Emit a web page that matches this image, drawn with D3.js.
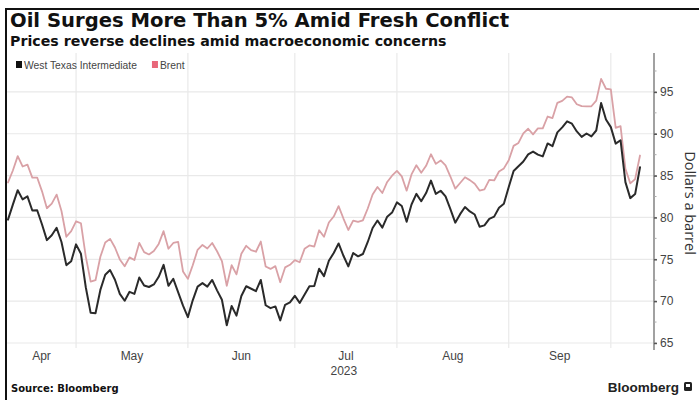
<!DOCTYPE html>
<html>
<head>
<meta charset="utf-8">
<script src="https://cdn.jsdelivr.net/npm/d3@7"></script>
<style>
  html, body { margin: 0; padding: 0; background: #fff; }
  svg { display: block; }
</style>
</head>
<body>
<svg id="chart" width="699" height="400"></svg>
<script>
// Trading-day calendar: weekdays from 10 Apr to 9 Oct 2023
const startDay = new Date(2023, 3, 10);
const endDay = new Date(2023, 9, 10);
const weekdays = d3.timeDay.range(startDay, endDay).filter(d => d.getDay() !== 0 && d.getDay() !== 6);

// WTI front-month, $/bbl, one value per weekday (null = market holiday)
const wti = [
  79.74, 81.53, 83.26, 82.16, 82.52,
  80.83, 80.86, 79.16, 77.29, 77.87,
  78.76, 77.07, 74.30, 74.76, 76.78,
  75.66, 71.66, 68.60, 68.56, 71.34,
  73.16, 73.71, 72.56, 70.87, 70.04,
  71.11, 70.86, 72.83, 71.86, 71.69,
  71.99, 72.91, 74.34, 71.83, 72.67,
  null, 69.46, 68.09, 70.10, 71.74,
  72.15, 71.74, 72.53, 71.29, 70.17,
  67.12, 69.42, 68.27, 70.62, 71.78,
  null, 71.19, 72.53, 69.51, 69.16,
  69.37, 67.70, 69.56, 69.86, 70.64,
  69.79, null, 71.79, 71.80, 73.86,
  72.99, 74.83, 75.75, 76.89, 75.42,
  74.15, 75.75, 75.35, 75.63, 77.07,
  78.74, 79.63, 78.78, 80.09, 80.58,
  81.80, 81.37, 79.49, 81.55, 82.82,
  81.94, 82.92, 84.40, 82.82, 83.19,
  82.51, 80.99, 79.38, 80.39, 81.25,
  80.72, 80.35, 78.89, 79.05, 79.83,
  80.10, 81.16, 81.63, 83.63, 85.55,
  null, 86.69, 87.54, 87.87, 87.51,
  87.29, 88.84, 88.52, 90.16, 90.77,
  91.48, 91.20, 90.28, 89.63, 90.03,
  89.68, 90.39, 93.68, 91.71, 90.79,
  88.82, 89.23, 84.22, 82.31, 82.79,
  86.0
];

// Brent front-month, $/bbl
const brent = [
  84.18, 85.61, 87.33, 86.09, 86.31,
  84.76, 84.77, 83.12, 81.10, 81.66,
  82.73, 80.77, 77.69, 78.37, 79.54,
  79.31, 75.32, 72.33, 72.50, 75.30,
  77.01, 77.44, 76.41, 74.98, 74.17,
  75.23, 74.91, 76.96, 75.86, 75.58,
  75.99, 76.84, 78.36, 76.26, 76.95,
  77.07, 73.54, 72.66, 74.28, 76.13,
  76.71, 76.29, 76.95, 75.96, 74.79,
  71.84, 74.29, 73.20, 75.67, 76.61,
  76.09, 75.90, 77.12, 74.14, 73.85,
  74.18, 72.26, 74.03, 74.34, 74.90,
  74.65, 76.25, 76.65, 76.52, 78.47,
  77.69, 79.40, 80.11, 81.36, 79.87,
  78.50, 79.63, 79.46, 79.64, 81.07,
  82.74, 83.64, 82.92, 84.24, 84.99,
  85.56, 84.91, 83.20, 85.14, 86.24,
  85.34, 86.17, 87.55, 86.40, 86.81,
  86.21, 84.89, 83.45, 84.12, 84.80,
  84.46, 84.03, 83.21, 83.36, 84.48,
  84.42, 85.49, 85.86, 86.83, 88.55,
  88.90, 90.04, 90.60, 89.92, 90.65,
  90.64, 92.06, 91.88, 93.70, 93.93,
  94.43, 94.34, 93.53, 93.30, 93.27,
  93.29, 93.96, 96.55, 95.38, 95.31,
  90.71, 90.92, 85.81, 84.07, 84.58,
  87.4
];

const yTicks = [65, 70, 75, 80, 85, 90, 95];
const yMinorTicks = d3.range(65, 97.6, 2.5);
const monthLabels = ["Apr", "May", "Jun", "Jul", "Aug", "Sep"];
const yearLabel = "2023";

const series = [
  { name: "West Texas Intermediate", values: wti, line: "#2a2a2a", swatch: "#111111", width: 2 },
  { name: "Brent", values: brent, line: "#d9a1a6", swatch: "#e8677a", width: 1.8 }
];

const svg = d3.select("#chart");
const plot = { left: 7, right: 654, top: 53, bottom: 348 };

const x = d3.scaleLinear().domain([0, weekdays.length - 1]).range([8, 640]);
const y = d3.scaleLinear().domain([64.4, 99.65]).range([plot.bottom, plot.top]);

// Month boundaries: the first weekday of each month; the rule sits at the prior session's close
const monthStarts = d3.timeMonth.range(new Date(2023, 4, 1), new Date(2023, 9, 2));
const boundaryX = monthStarts.map(m => {
  const idx = weekdays.findIndex(d => d >= m);
  return x(idx - 1);
});

// Frame
svg.append("rect").attr("x", 5).attr("y", 8).attr("width", 694).attr("height", 2).attr("fill", "#111");
svg.append("rect").attr("x", 5).attr("y", 8).attr("width", 2).attr("height", 392).attr("fill", "#111");

// Titles
svg.append("text").attr("x", 10).attr("y", 26.5)
  .attr("font-family", "DejaVu Sans").attr("font-weight", "bold").attr("font-size", 19.6)
  .attr("fill", "#111").text("Oil Surges More Than 5% Amid Fresh Conflict");
svg.append("text").attr("x", 10).attr("y", 46)
  .attr("font-family", "DejaVu Sans").attr("font-weight", "bold").attr("font-size", 14.2)
  .attr("fill", "#111").text("Prices reverse declines amid macroeconomic concerns");

// Horizontal grid
svg.append("g").selectAll("line").data(yTicks).join("line")
  .attr("x1", plot.left).attr("x2", plot.right)
  .attr("y1", d => y(d)).attr("y2", d => y(d))
  .attr("stroke", "#e9e9e9").attr("stroke-width", 1.2);

// Vertical month grid
svg.append("g").selectAll("line").data(boundaryX).join("line")
  .attr("x1", d => d).attr("x2", d => d)
  .attr("y1", plot.top).attr("y2", plot.bottom)
  .attr("stroke", "#e9e9e9").attr("stroke-width", 1.2);

// Legend
const legend = svg.append("g").attr("font-family", "Liberation Sans Narrow, Liberation Sans, sans-serif")
  .attr("font-size", 10.3).attr("fill", "#444");
let lx = 16;
series.forEach(s => {
  legend.append("rect").attr("x", lx).attr("y", 61).attr("width", 6).attr("height", 7).attr("fill", s.swatch);
  const t = legend.append("text").attr("x", lx + 8).attr("y", 68.5).text(s.name);
  lx += 8 + t.node().getComputedTextLength() + 15;
});

// Lines
const line = d3.line()
  .x(d => x(d.i))
  .y(d => y(d.v))
  .curve(d3.curveLinear);

series.slice().reverse().forEach(s => {
  const pts = s.values.map((v, i) => ({ i, v })).filter(d => d.v != null);
  svg.append("path").datum(pts)
    .attr("d", line)
    .attr("fill", "none")
    .attr("stroke", s.line)
    .attr("stroke-width", s.width)
    .attr("stroke-linejoin", "round")
    .attr("stroke-linecap", "round");
});

// Right axis
const axisG = svg.append("g").attr("transform", `translate(${plot.right},0)`);
axisG.append("line").attr("x1", 0).attr("x2", 0).attr("y1", plot.top).attr("y2", plot.bottom + 2)
  .attr("stroke", "#8a8a8a").attr("stroke-width", 1.6);
axisG.selectAll("line.minor").data(yMinorTicks).join("line").attr("class", "minor")
  .attr("x1", 0).attr("x2", 2.5).attr("y1", d => y(d)).attr("y2", d => y(d))
  .attr("stroke", "#aaa").attr("stroke-width", 1);
const yAxis = d3.axisRight(y).tickValues(yTicks).tickSize(3).tickPadding(3);
axisG.call(yAxis);
axisG.select(".domain").remove();
axisG.selectAll(".tick line").attr("stroke", "#555").attr("stroke-width", 1.5);
axisG.selectAll(".tick text")
  .attr("font-family", "Liberation Sans Narrow, Liberation Sans, sans-serif")
  .attr("font-size", 12).attr("fill", "#444");

svg.append("text")
  .attr("transform", `translate(685,${203}) rotate(90)`)
  .attr("text-anchor", "middle")
  .attr("font-family", "Open Sans, sans-serif").attr("font-size", 14.5).attr("fill", "#333")
  .text("Dollars a barrel");

// Month labels, centered in each month's visible span
const edges = [plot.left].concat(boundaryX);
const xLab = svg.append("g").attr("font-family", "Liberation Sans Narrow, Liberation Sans, sans-serif")
  .attr("font-size", 12).attr("fill", "#444").attr("text-anchor", "middle");
monthLabels.forEach((m, i) => {
  xLab.append("text").attr("x", (edges[i] + edges[i + 1]) / 2).attr("y", 360).text(m);
});
xLab.append("text").attr("x", (edges[3] + edges[4]) / 2 - 2).attr("y", 375).text(yearLabel);

// Footer
svg.append("text").attr("x", 11).attr("y", 392)
  .attr("font-family", "DejaVu Sans").attr("font-weight", "bold").attr("font-size", 10)
  .attr("fill", "#111").text("Source: Bloomberg");
svg.append("text").attr("x", 679).attr("y", 392).attr("text-anchor", "end")
  .attr("font-family", "Liberation Sans, sans-serif").attr("font-weight", "bold").attr("font-size", 13.5)
  .attr("fill", "#222").text("Bloomberg");
svg.append("rect").attr("x", 684).attr("y", 382).attr("width", 8).attr("height", 9).attr("rx", 1.5).attr("fill", "#222");
svg.append("rect").attr("x", 686).attr("y", 384).attr("width", 4).attr("height", 3).attr("fill", "#fff");
</script>
</body>
</html>
